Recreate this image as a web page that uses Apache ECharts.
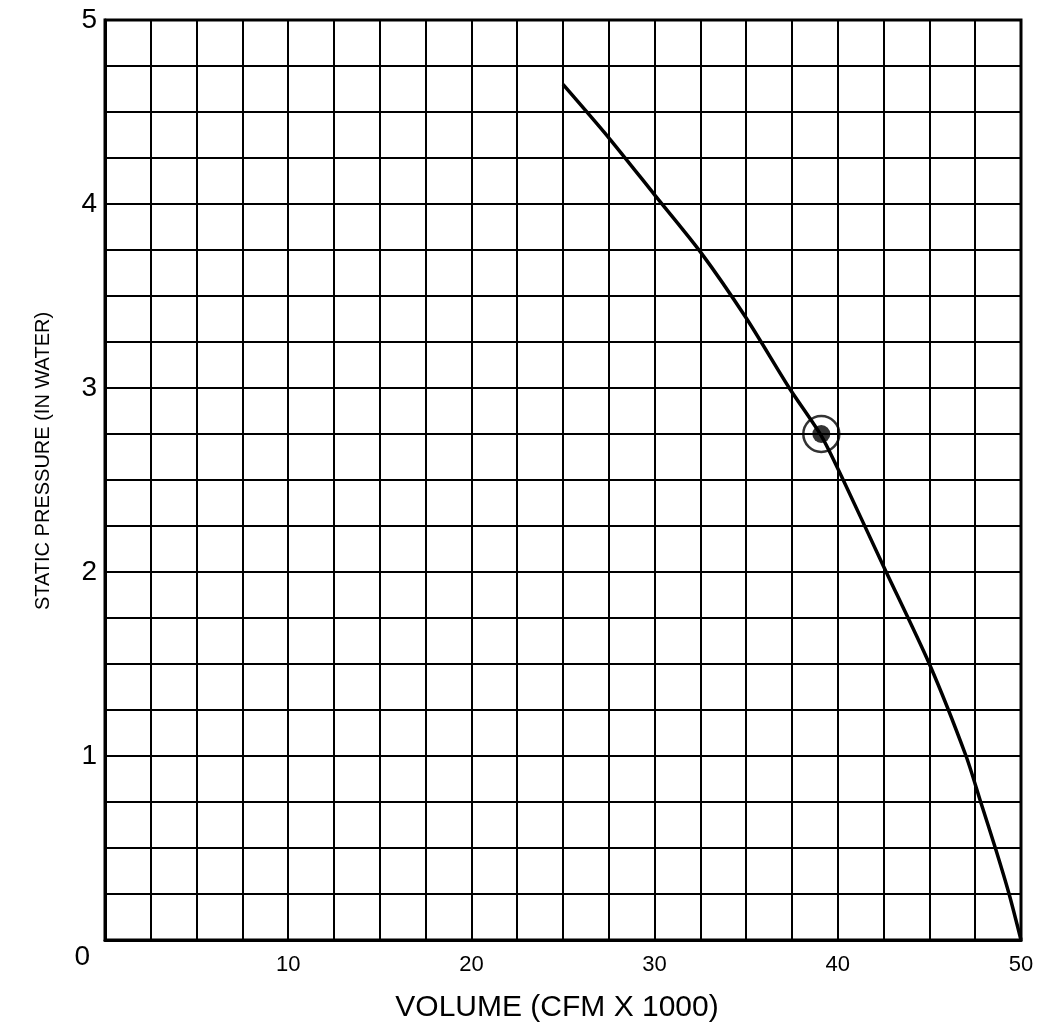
<!DOCTYPE html>
<html>
<head>
<meta charset="utf-8">
<script src="https://cdn.jsdelivr.net/npm/echarts@6/dist/echarts.min.js"></script>
<style>html,body{margin:0;padding:0;background:#fff}#c{width:1044px;height:1034px}</style>
</head>
<body>
<div id="c"></div>
<script>
// Fan curve: volume (CFM x 1000) vs static pressure (in water)
const volume   = [25.0, 27.5, 30.0, 32.5, 35.0, 37.35, 39.1, 40.2, 42.5, 45.0, 47.0, 47.8, 48.6, 49.35, 50.0];
const pressure = [4.65, 4.36, 4.05, 3.74, 3.38, 3.00, 2.74, 2.52, 2.03, 1.50, 1.00, 0.75, 0.50, 0.25, 0.00];
// Operating point
const opVolume = [39.1];
const opPressure = [2.75];
const xTickLabels = [10, 20, 30, 40, 50];
const yTickLabels = [0, 1, 2, 3, 4, 5];

const curveData = volume.map((v, i) => [v, pressure[i]]);
const opData = opVolume.map((v, i) => [v, opPressure[i]]);
const FONT = '"Liberation Sans", Arial, sans-serif';

const chart = echarts.init(document.getElementById('c'));
chart.setOption({
  backgroundColor: '#ffffff',
  animation: false,
  grid: { left: 105, right: 23, top: 20, bottom: 94, show: true, borderColor: '#000', borderWidth: 3, backgroundColor: 'transparent' },
  xAxis: {
    type: 'value', min: 0, max: 50, interval: 2.5,
    name: 'VOLUME (CFM X 1000)', nameLocation: 'middle', nameGap: 53,
    nameTextStyle: { fontFamily: FONT, fontSize: 30, color: '#000', padding: [0, 12, 0, 0] },
    axisLine: { show: true, lineStyle: { color: '#000', width: 3 } },
    axisTick: { show: false },
    splitLine: { show: true, lineStyle: { color: '#000', width: 2 } },
    axisLabel: {
      fontFamily: FONT, fontSize: 22, color: '#000', margin: 14,
      formatter: v => (xTickLabels.indexOf(v) >= 0 ? String(v) : '')
    }
  },
  yAxis: {
    type: 'value', min: 0, max: 5, interval: 0.25,
    name: 'STATIC PRESSURE (IN WATER)', nameLocation: 'middle', nameGap: 52,
    nameTextStyle: { fontFamily: FONT, fontSize: 20, color: '#000', padding: [0, 0, 0, 38] },
    axisLine: { show: true, lineStyle: { color: '#000', width: 3 } },
    axisTick: { show: false },
    splitLine: { show: true, lineStyle: { color: '#000', width: 2 } },
    axisLabel: {
      fontFamily: FONT, fontSize: 28, color: '#000', margin: 8,
      formatter: v => {
        if (yTickLabels.indexOf(v) < 0) return '';
        return v === 0 ? '{z|0}' : String(v);
      },
      rich: { z: { fontFamily: FONT, fontSize: 28, color: '#000', padding: [34, 7, 0, 0] } }
    }
  },
  series: [
    {
      type: 'line', data: curveData, smooth: 0.25, showSymbol: false,
      lineStyle: { color: '#000', width: 3.5 }, z: 3
    },
    {
      type: 'scatter', data: opData, symbol: 'circle', symbolSize: 36,
      itemStyle: { color: 'rgba(0,0,0,0)', borderColor: '#000', borderWidth: 2.5 }, z: 4
    },
    {
      type: 'scatter', data: opData, symbol: 'circle', symbolSize: 18,
      itemStyle: { color: '#000' }, z: 5
    }
  ]
});
</script>
</body>
</html>
